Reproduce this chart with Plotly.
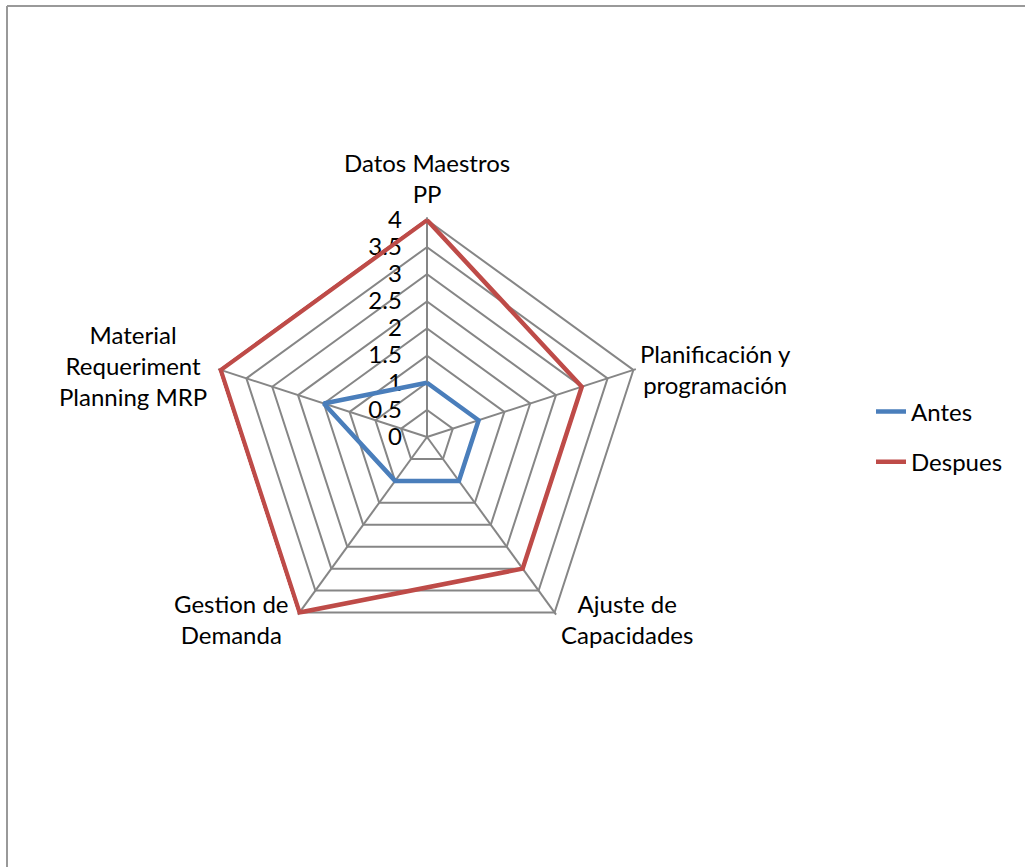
import math
import plotly.graph_objects as go

categories = ["Datos Maestros<br>PP", "Planificación y<br>programación", "Ajuste de<br>Capacidades",
              "Gestion de<br>Demanda", "Material<br>Requeriment<br>Planning MRP"]
antes = [1, 1, 1, 1, 2]
despues = [4, 3, 3, 4, 4]
radial_ticks = [0, 0.5, 1, 1.5, 2, 2.5, 3, 3.5, 4]
r_max = 4

W, H = 1025, 867
cx, cy, R = 427, 437, 217          # centre and pixel radius of the value r_max
pad = 1.012                        # small headroom so the outer lines are not clipped
Rd = R * pad

font = dict(family="Lato, Open Sans, sans-serif", size=24, color="#000000")

def closed(v):
    return v + v[:1]

fig = go.Figure()
fig.add_trace(go.Scatterpolar(r=closed(antes), theta=closed(categories), mode="lines",
                              name="Antes", legendgroup="a", cliponaxis=False,
                              line=dict(color="#4a7ebb", width=4.5)))
fig.add_trace(go.Scatterpolar(r=closed(despues), theta=closed(categories), mode="lines",
                              name="Despues", legendgroup="d", cliponaxis=False,
                              line=dict(color="#be4b48", width=4.5)))

# Category labels placed just outside each spoke end
label_style = [
    # (xanchor, yanchor, dx, dy) relative to the spoke end, in pixels
    ("center", "bottom", 0, -10),
    ("left", "middle", 5, -1),
    ("left", "middle", 4, 6),
    ("right", "middle", -8, 6),
    ("right", "middle", -12, -4),
]
annotations = []
n = len(categories)
for i, (name, (xa, ya, dx, dy)) in enumerate(zip(categories, label_style)):
    ang = math.radians(90 - 360 * i / n)
    px = cx + R * math.cos(ang) + dx
    py = cy - R * math.sin(ang) + dy
    annotations.append(dict(text=name, xref="paper", yref="paper",
                            x=px / W, y=1 - py / H, xanchor=xa, yanchor=ya,
                            align="center", showarrow=False, font=font))

grid = "#868686"
fig.update_layout(
    width=W, height=H,
    margin=dict(l=0, r=0, t=0, b=0),
    paper_bgcolor="white",
    font=font,
    polar=dict(
        domain=dict(x=[(cx - Rd) / W, (cx + Rd) / W], y=[(H - cy - Rd) / H, (H - cy + Rd) / H]),
        bgcolor="white",
        gridshape="linear",
        angularaxis=dict(rotation=90, direction="clockwise", showline=False,
                         gridcolor=grid, gridwidth=1.5, layer="below traces",
                         ticks="", showticklabels=False),
        radialaxis=dict(range=[0, r_max * pad], tickvals=radial_ticks, angle=90, tickangle=90,
                        side="counterclockwise", layer="below traces",
                        showline=True, linecolor=grid, linewidth=1.5,
                        gridcolor=grid, gridwidth=1.5,
                        ticks="outside", ticklen=16, tickcolor="rgba(0,0,0,0)",
                        tickfont=font),
    ),
    annotations=annotations,
    showlegend=True,
    legend=dict(x=871 / W, y=(H - 437) / H, xanchor="left", yanchor="middle",
                font=font, traceorder="grouped", tracegroupgap=16,
                bgcolor="rgba(0,0,0,0)"),
    shapes=[
        dict(type="line", xref="paper", yref="paper", x0=7 / W, x1=1.0,
             y0=(H - 6) / H, y1=(H - 6) / H, line=dict(color="#999999", width=2)),
        dict(type="line", xref="paper", yref="paper", x0=7 / W, x1=7 / W,
             y0=0, y1=(H - 6) / H, line=dict(color="#999999", width=2)),
    ],
)

fig.write_html("out.html")
